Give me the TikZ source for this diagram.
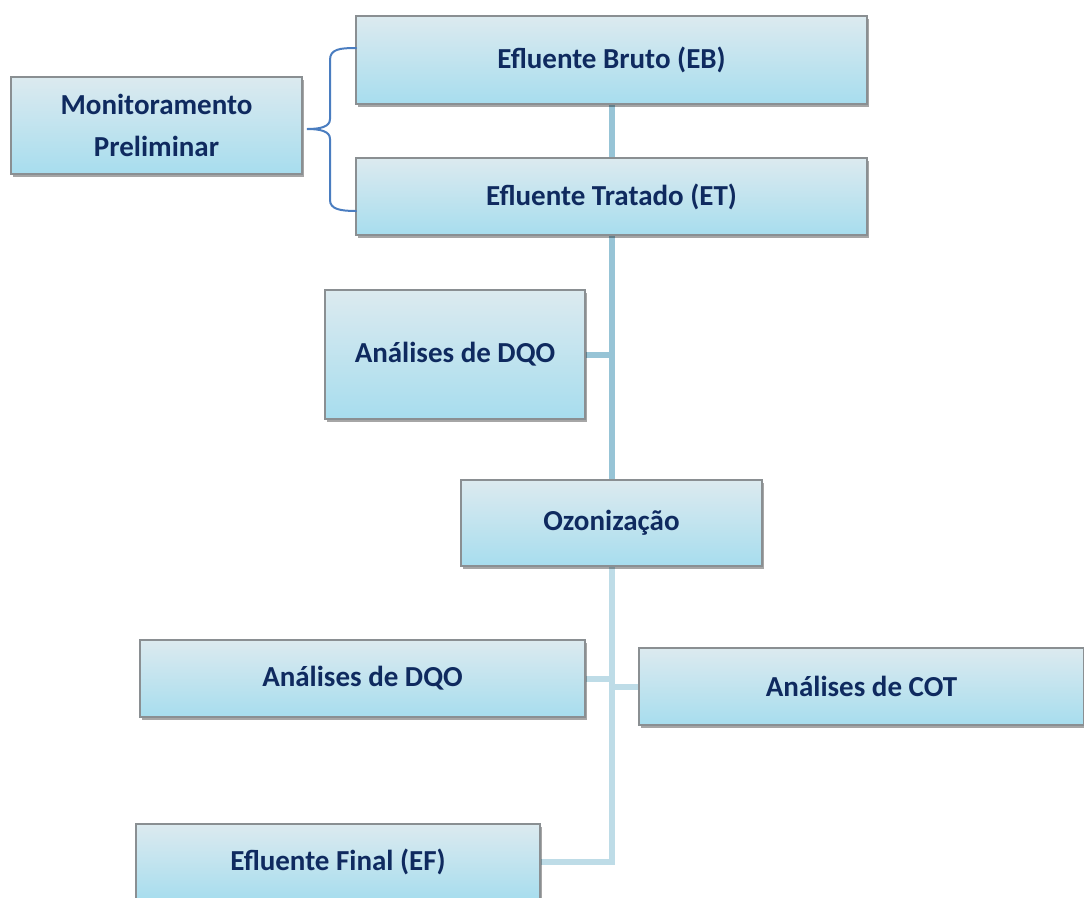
\documentclass[tikz,border=0pt]{standalone}
\usepackage{fontspec}
\setmainfont{Carlito}
\usetikzlibrary{shadows,backgrounds,calc}
\definecolor{txtblue}{HTML}{0F2A5F}
\definecolor{boxtop}{HTML}{DCEAEF}
\definecolor{boxbot}{HTML}{A7DDEE}
\definecolor{boxline}{HTML}{8A8F92}
\definecolor{linkdark}{HTML}{97C4D6}
\definecolor{linklight}{HTML}{BEDCE7}
\definecolor{bracecol}{HTML}{4A7DC0}
\tikzset{
  box/.style={draw=boxline, line width=0.9pt, top color=boxtop, bottom color=boxbot,
    text=txtblue, font=\fontsize{21.75pt}{32pt}\selectfont\bfseries, align=center,
    inner sep=0pt, anchor=center,
    drop shadow={shadow xshift=1.2pt, shadow yshift=-2.2pt, opacity=0.35, fill=black}},
  linkA/.style={draw=linkdark, line width=4.5pt},
  linkB/.style={draw=linklight, line width=4.5pt},
  bracestyle/.style={draw=bracecol, line width=1.5pt, line cap=round}
}
\begin{document}
\begin{tikzpicture}[x=0.75pt, y=-0.75pt]
\useasboundingbox (0,0) rectangle (1084,897);
\node[box, minimum width=218.25pt, minimum height=72.75pt] (mon) at (156.5,125.5) {Monitoramento\\Preliminar};
\node[box, minimum width=383.25pt, minimum height=66pt] (eb) at (611.5,60) {Efluente Bruto (EB)};
\node[box, minimum width=383.25pt, minimum height=57.75pt] (et) at (611.5,196.5) {Efluente Tratado (ET)};
\node[box, minimum width=195pt, minimum height=96.75pt] (dqoa) at (455,354.5) {Análises de DQO};
\node[box, minimum width=225.75pt, minimum height=64.5pt] (oz) at (611.5,523) {Ozonização};
\node[box, minimum width=333.75pt, minimum height=57.75pt] (dqob) at (362.5,678.5) {Análises de DQO};
\node[box, minimum width=333.75pt, minimum height=57.75pt] (cot) at (861.5,686.5) {Análises de COT};
\node[box, minimum width=303pt, minimum height=57pt] (ef) at (338,862) {Efluente Final (EF)};
\begin{scope}[on background layer]
  \draw[linkA] (eb.south) -- (et.north);
  \draw[linkA] (et.south) -- (oz.north);
  \draw[linkA] (dqoa.east) -- (dqoa.east -| et.south);
  \draw[linkB] (oz.south) -- (oz.south |- ef.east) -- (ef.east);
  \draw[linkB] (dqob.east) -- (dqob.east -| oz.south);
  \draw[linkB] (cot.west) -- (cot.west -| oz.south);
\end{scope}
\draw[bracestyle] (356,48) .. controls (340,48) and (330,49) .. (330,60) -- (330,119)
  .. controls (330,127) and (320,129) .. (307,129)
  .. controls (320,129) and (330,131) .. (330,139) -- (330,200)
  .. controls (330,209) and (340,211) .. (356,211);
\end{tikzpicture}
\end{document}
